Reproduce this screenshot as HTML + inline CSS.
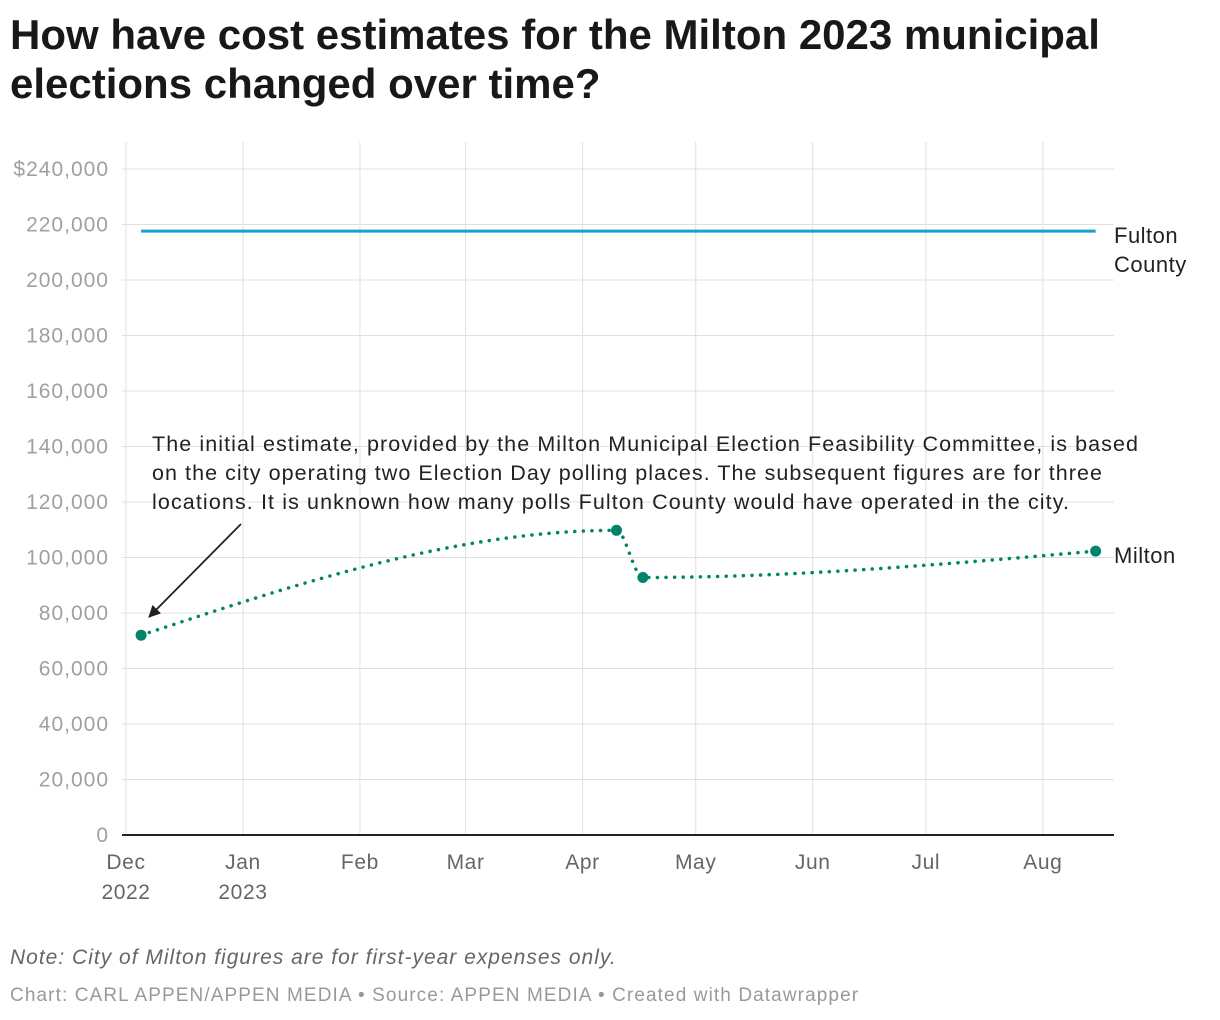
<!DOCTYPE html>
<html><head><meta charset="utf-8"><style>
body{margin:0;background:#fff;width:1220px;height:1020px;overflow:hidden;font-family:"Liberation Sans",sans-serif}
h1{position:absolute;left:10px;top:10px;margin:0;font-size:42px;line-height:49px;font-weight:bold;color:#181818;letter-spacing:0px;width:1210px;white-space:nowrap}
.note{position:absolute;left:10px;top:946px;font-size:21px;font-style:italic;color:#666;letter-spacing:1px}
.credit{position:absolute;left:10px;top:985px;font-size:19px;color:#999;letter-spacing:1.1px}
svg{position:absolute;left:0;top:0}
</style></head><body>
<h1>How have cost estimates for the Milton 2023 municipal<br>elections changed over time?</h1>
<svg id="chart" width="1220" height="1020"></svg>
<div class="note">Note: City of Milton figures are for first-year expenses only.</div>
<div class="credit">Chart: CARL APPEN/APPEN MEDIA • Source: APPEN MEDIA • Created with Datawrapper</div>
<script>
const yTicks=[0,20000,40000,60000,80000,100000,120000,140000,160000,180000,200000,220000,240000];
const xTickDates=["2022-12-01","2023-01-01","2023-02-01","2023-03-01","2023-04-01","2023-05-01","2023-06-01","2023-07-01","2023-08-01"];
const xTickLabels=[["Dec","2022"],["Jan","2023"],["Feb"],["Mar"],["Apr"],["May"],["Jun"],["Jul"],["Aug"]];
const miltonDates=["2022-12-05","2023-04-10","2023-04-17","2023-08-15"];
const miltonValues=[72000,109800,92800,102300];
const fultonDates=["2022-12-05","2023-08-15"];
const fultonValues=[217600,217600];

const NS="http://www.w3.org/2000/svg";
const svg=document.getElementById('chart');
const t0=Date.UTC(2022,11,1);
function day(s){const p=s.split('-');return (Date.UTC(+p[0],+p[1]-1,+p[2])-t0)/86400000;}
const X=s=>126+day(s)*3.773;
const Y=v=>835-v*(666/240000);
function el(tag,attrs,parent){const e=document.createElementNS(NS,tag);for(const k in attrs)e.setAttribute(k,attrs[k]);(parent||svg).appendChild(e);return e;}

yTicks.forEach((v,i)=>{
  if(v>0){const g=el('line',{x1:122,x2:1114,y1:Y(v),y2:Y(v),stroke:'#e0e0e0','stroke-width':1});
  
  }
  const t=el('text',{x:109,y:Y(v)+7,'text-anchor':'end','font-size':21,fill:'#a0a0a0','letter-spacing':'1'});
  t.textContent=(i===yTicks.length-1?'$':'')+v.toLocaleString('en-US');
  
  
});
xTickDates.forEach((d,i)=>{
  const x=X(d);
  const g=el('line',{x1:x,x2:x,y1:142,y2:835,stroke:'#e0e0e0','stroke-width':1});
  
  
  xTickLabels[i].forEach((s,j)=>{
    const t=el('text',{x:x,y:869+j*30,'text-anchor':'middle','font-size':21,fill:'#666','letter-spacing':'0.6'});
    t.textContent=s;
    
    
  });
});
const ax=el('line',{x1:122,x2:1114,y1:835,y2:835,stroke:'#222','stroke-width':2});



const fl=el('path',{d:'M'+X(fultonDates[0])+','+Y(fultonValues[0])+' L'+X(fultonDates[1])+','+Y(fultonValues[1]),stroke:'#18a1cd','stroke-width':3,fill:'none'});



const px=miltonDates.map(X), py=miltonValues.map(Y), n=px.length;
const dk=[],m=[];
for(let i=0;i<n-1;i++)dk.push((py[i+1]-py[i])/(px[i+1]-px[i]));
for(let i=1;i<n-1;i++){if(dk[i-1]*dk[i]<=0)m[i]=0;else{const h0=px[i]-px[i-1],h1=px[i+1]-px[i];m[i]=3*(h0+h1)/((2*h1+h0)/dk[i-1]+(h1+2*h0)/dk[i]);}}
m[0]=(3*dk[0]-m[1])/2;m[n-1]=(3*dk[n-2]-m[n-2])/2;
let d='M'+px[0]+','+py[0];
for(let i=0;i<n-1;i++){const h=(px[i+1]-px[i])/3;d+=' C'+(px[i]+h)+','+(py[i]+m[i]*h)+' '+(px[i+1]-h)+','+(py[i+1]-m[i+1]*h)+' '+px[i+1]+','+py[i+1];}
const ml=el('path',{d:d,stroke:'#00846b','stroke-width':3.5,fill:'none','stroke-dasharray':'0.1 8.5','stroke-linecap':'round'});


px.forEach((x,i)=>{const c=el('circle',{cx:x,cy:py[i],r:5.5,fill:'#00846b'});

});

[['Fulton',236],['County',265]].forEach(a=>{const t=el('text',{x:1114,y:a[1]+7,'font-size':22,fill:'#222','letter-spacing':'0.5'});t.textContent=a[0];

});
const mlab=el('text',{x:1114,y:563,'font-size':22,fill:'#222','letter-spacing':'0.5'});mlab.textContent='Milton';



const annLines=["The initial estimate, provided by the Milton Municipal Election Feasibility Committee, is based","on the city operating two Election Day polling places. The subsequent figures are for three","locations. It is unknown how many polls Fulton County would have operated in the city."];
const annLen=[986,950,917];
annLines.forEach((s,i)=>{
  const t=el('text',{x:152,y:451+i*29,'font-size':21.5,fill:'#222',textLength:annLen[i],lengthAdjust:'spacing'});t.textContent=s;
  
  
});
const defs=el('defs',{});
const mk=el('marker',{id:'ah',markerWidth:12,markerHeight:12,refX:11,refY:6,orient:'auto',markerUnits:'userSpaceOnUse'},defs);
el('path',{d:'M0,0 L12,6 L0,12 z',fill:'#222'},mk);
const ar=el('line',{x1:241,y1:524,x2:149,y2:617,stroke:'#222','stroke-width':1.8,'marker-end':'url(#ah)'});


</script>
</body></html>
